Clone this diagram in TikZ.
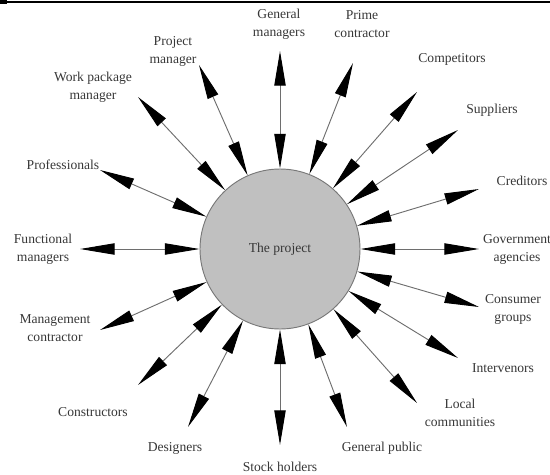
\documentclass[tikz,border=0pt]{standalone}
\usepackage{fontspec}
\setmainfont{Liberation Serif}
\usetikzlibrary{arrows.meta}
\definecolor{linegray}{RGB}{110,110,110}
\definecolor{circfill}{RGB}{192,192,192}
\definecolor{circedge}{RGB}{120,120,120}
\definecolor{txt}{RGB}{55,55,55}
\tikzset{
  lab/.style={align=center, text=txt, inner sep=0pt, font=\fontsize{10.2pt}{13.5pt}\selectfont},
  link/.style={draw=linegray, line width=0.7pt,
    {Triangle[length=26pt,width=8.5pt,color=black]}-{Triangle[length=26pt,width=8.5pt,color=black]}},
  hub/.style={circle, draw=circedge, fill=circfill, line width=0.7pt, minimum size=120pt, inner sep=0pt,
    text=txt, font=\fontsize{10.2pt}{13.5pt}\selectfont}
}
\begin{document}
\begin{tikzpicture}[x=0.75pt,y=-0.75pt]
\useasboundingbox (0,0) rectangle (550,475);
% header rule
\draw[line width=1.1pt] (0,2) -- (550,2);
\fill (0,0) rectangle (7,4);

\node[hub] (c) at (280,249) {The project};

% outer ends
\coordinate (o1) at (280,51);
\coordinate (o2) at (353,63);
\coordinate (o3) at (417,92);
\coordinate (o4) at (458,130);
\coordinate (o5) at (479,189);
\coordinate (o6) at (479,249);
\coordinate (o7) at (479,307);
\coordinate (o8) at (458,358);
\coordinate (o9) at (417,403);
\coordinate (o10) at (347,427);
\coordinate (o11) at (280,445);
\coordinate (o12) at (188,427);
\coordinate (o13) at (138,385);
\coordinate (o14) at (100,330);
\coordinate (o15) at (80,249);
\coordinate (o16) at (100,170);
\coordinate (o17) at (138,97);
\coordinate (o18) at (199,65);

\foreach \i in {1,...,18} {\draw[link] (c) -- (o\i);}

% labels
\node[lab] (l1) at (279,24) {General\\managers};
\node[lab] (l2) at (362,24) {Prime\\contractor};
\node[lab] (l3) at (452,59) {Competitors};
\node[lab] (l4) at (492,110) {Suppliers};
\node[lab] (l5) at (522,181) {Creditors};
\node[lab] (l6) at (517,249) {Government\\agencies};
\node[lab] (l7) at (513,309) {Consumer\\groups};
\node[lab] (l8) at (503,368) {Intervenors};
\node[lab] (l9) at (460,413) {Local\\communities};
\node[lab] (l10) at (382,448) {General public};
\node[lab] (l11) at (280,467) {Stock holders};
\node[lab] (l12) at (175,448) {Designers};
\node[lab] (l13) at (93,412) {Constructors};
\node[lab] (l14) at (55,328) {Management\\contractor};
\node[lab] (l15) at (43,249) {Functional\\managers};
\node[lab] (l16) at (63,165) {Professionals};
\node[lab] (l17) at (93,87) {Work package\\manager};
\node[lab] (l18) at (173,51) {Project\\manager};
\end{tikzpicture}
\end{document}
